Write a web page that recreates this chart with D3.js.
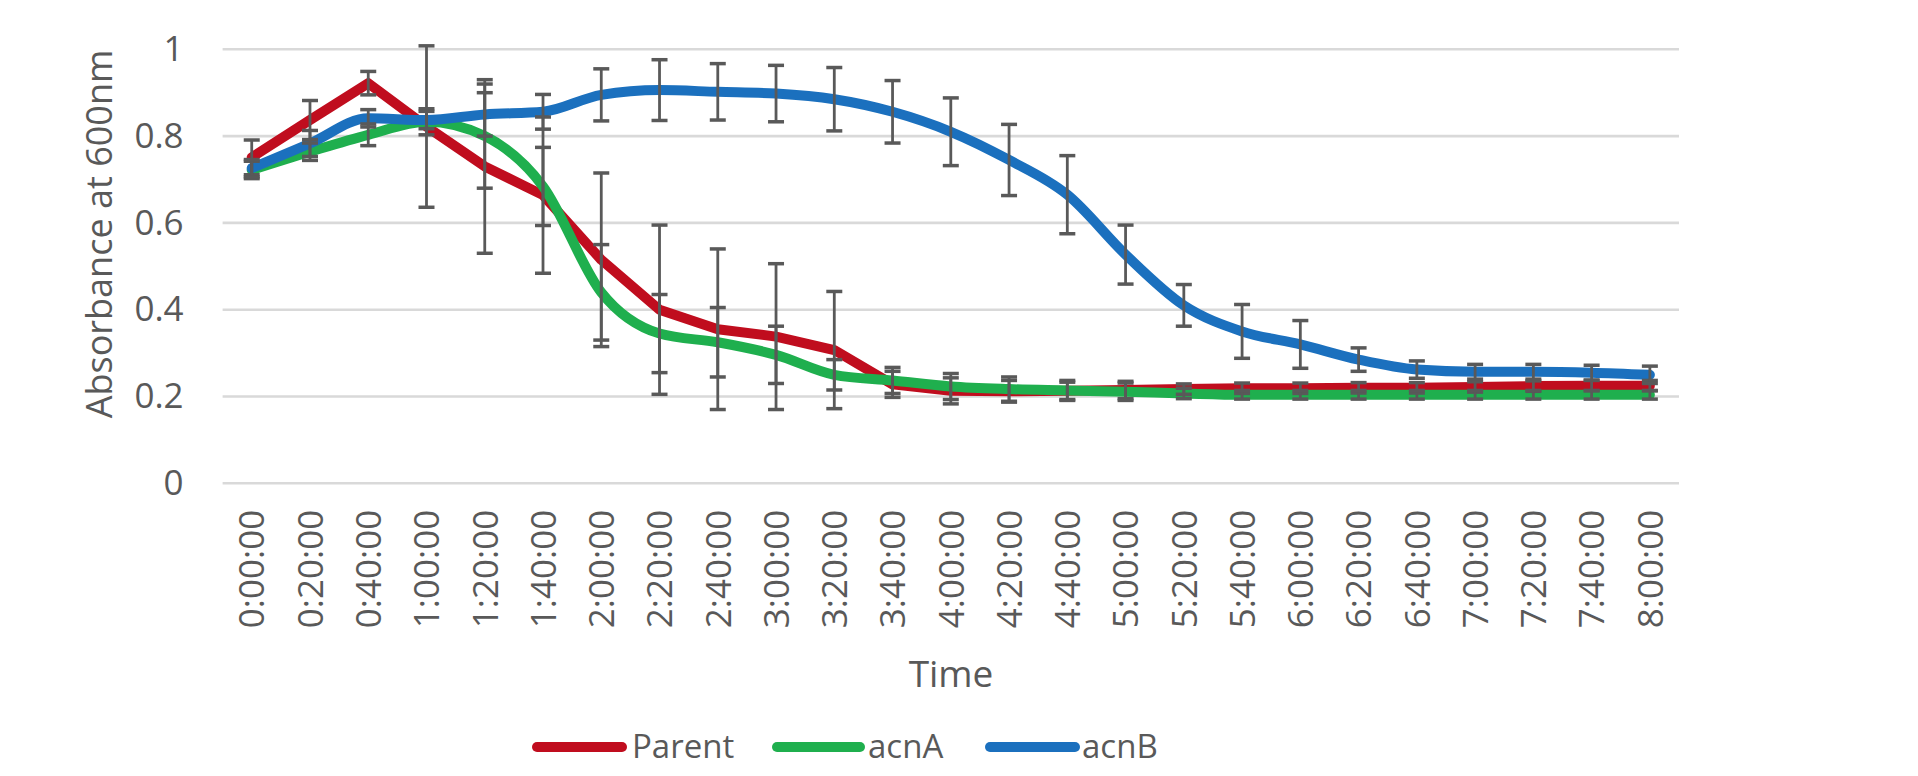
<!DOCTYPE html>
<html>
<head>
<meta charset="utf-8">
<script src="https://cdn.jsdelivr.net/npm/d3@7"></script>
<style>
  html, body { margin: 0; padding: 0; background: #ffffff; }
  svg { display: block; }
  text { font-family: "Open Sans", "Noto Sans", sans-serif; fill: #595959; }
</style>
</head>
<body>
<svg id="chart" width="1918" height="776"></svg>
<script>
// ---- data ----
const categories = ["0:00:00","0:20:00","0:40:00","1:00:00","1:20:00","1:40:00","2:00:00","2:20:00","2:40:00",
  "3:00:00","3:20:00","3:40:00","4:00:00","4:20:00","4:40:00","5:00:00","5:20:00","5:40:00","6:00:00",
  "6:20:00","6:40:00","7:00:00","7:20:00","7:40:00","8:00:00"];
const seriesNames = ["Parent", "acnA", "acnB"];
const parentValues = [0.751,0.837,0.922,0.822,0.730,0.664,0.515,0.400,0.355,0.338,0.307,0.228,0.213,0.212,0.213,
  0.215,0.217,0.219,0.219,0.220,0.220,0.222,0.224,0.225,0.225];
const parentErrors = [0.040,0.045,0.027,0.186,0.200,0.180,0.200,0.195,0.185,0.168,0.135,0.030,0.030,0.025,0.020,
  0.020,0.012,0.012,0.012,0.012,0.012,0.012,0.012,0.012,0.012];
const acnAValues = [0.722,0.764,0.803,0.833,0.800,0.684,0.440,0.345,0.325,0.296,0.250,0.237,0.223,0.217,0.214,
  0.211,0.207,0.204,0.204,0.204,0.204,0.204,0.204,0.204,0.204];
const acnAErrors = [0.020,0.020,0.025,0.030,0.120,0.090,0.110,0.090,0.080,0.066,0.035,0.030,0.030,0.028,0.023,
  0.020,0.012,0.010,0.010,0.010,0.010,0.010,0.010,0.010,0.010];
const acnBValues = [0.726,0.783,0.841,0.837,0.850,0.856,0.895,0.906,0.902,0.898,0.885,0.856,0.810,0.745,0.665,
  0.527,0.410,0.350,0.320,0.285,0.262,0.257,0.257,0.255,0.250];
const acnBErrors = [0.020,0.030,0.020,0.020,0.050,0.040,0.060,0.070,0.065,0.065,0.073,0.072,0.078,0.082,0.090,
  0.068,0.048,0.062,0.055,0.027,0.020,0.017,0.017,0.017,0.020];
const yTickValues = [0, 0.2, 0.4, 0.6, 0.8, 1];
const colors = ["#C00D1E", "#1FAF4E", "#1B70BE"];
const yTitle = "Absorbance at 600nm";
const xTitle = "Time";

const series = [
  { name: seriesNames[0], values: parentValues, errors: parentErrors, color: colors[0], curve: d3.curveLinear },
  { name: seriesNames[1], values: acnAValues, errors: acnAErrors, color: colors[1], curve: d3.curveMonotoneX },
  { name: seriesNames[2], values: acnBValues, errors: acnBErrors, color: colors[2], curve: d3.curveMonotoneX }
];

// ---- layout ----
const plot = { left: 222.6, right: 1679, top: 49.3, bottom: 483.3 };
const svg = d3.select("#chart");

const x = d3.scalePoint().domain(categories).range([plot.left, plot.right]).padding(0.5);
const y = d3.scaleLinear().domain([0, 1]).range([plot.bottom, plot.top]);

// gridlines
svg.append("g").selectAll("line").data(yTickValues).join("line")
  .attr("x1", plot.left).attr("x2", plot.right)
  .attr("y1", d => y(d)).attr("y2", d => y(d))
  .attr("stroke", "#D9D9D9").attr("stroke-width", 2.6);

// y axis labels
const yAxis = svg.append("g").attr("transform", `translate(${plot.left},0)`)
  .call(d3.axisLeft(y).tickValues(yTickValues).tickFormat(d3.format("~g")).tickSize(0).tickPadding(39));
yAxis.select(".domain").remove();
yAxis.selectAll("text").style("font-size", "35px").attr("fill", "#595959")
  .style("font-family", "'Open Sans', sans-serif");

// x axis labels
const xAxis = svg.append("g").attr("transform", `translate(0,${plot.bottom})`)
  .call(d3.axisBottom(x).tickSize(0));
xAxis.select(".domain").remove();
xAxis.selectAll("text")
  .attr("transform", "rotate(-90)")
  .attr("x", -26.5).attr("y", 0).attr("dy", "0.35em")
  .attr("text-anchor", "end")
  .style("font-size", "35px").attr("fill", "#595959")
  .style("font-family", "'Open Sans', sans-serif");

// lines
series.forEach(s => {
  const line = d3.line().x((d, i) => x(categories[i])).y(d => y(d)).curve(s.curve);
  svg.append("path").datum(s.values)
    .attr("d", line)
    .attr("fill", "none")
    .attr("stroke", s.color)
    .attr("stroke-width", 10)
    .attr("stroke-linejoin", "round")
    .attr("stroke-linecap", "round");
});

// error bars
const capHalf = 8;
series.forEach(s => {
  const g = svg.append("g").attr("stroke", "#595959").attr("stroke-width", 2.8);
  s.values.forEach((v, i) => {
    const cx = x(categories[i]);
    const yTop = y(v + s.errors[i]);
    const yBot = y(v - s.errors[i]);
    g.append("line").attr("x1", cx).attr("x2", cx).attr("y1", yTop).attr("y2", yBot);
    g.append("line").attr("x1", cx - capHalf).attr("x2", cx + capHalf).attr("y1", yTop).attr("y2", yTop).attr("stroke-width", 3.5);
    g.append("line").attr("x1", cx - capHalf).attr("x2", cx + capHalf).attr("y1", yBot).attr("y2", yBot).attr("stroke-width", 3.5);
  });
});

// axis titles
svg.append("text")
  .attr("transform", "translate(112,234) rotate(-90)")
  .attr("text-anchor", "middle")
  .style("font-size", "36px")
  .text(yTitle);

svg.append("text")
  .attr("x", 951).attr("y", 687)
  .attr("text-anchor", "middle")
  .style("font-size", "37px")
  .text(xTitle);

// legend
const legendItems = [
  { x1: 532, x2: 627, tx: 632 },
  { x1: 772, x2: 865, tx: 868 },
  { x1: 985, x2: 1080, tx: 1082 }
];
series.forEach((s, i) => {
  const it = legendItems[i];
  svg.append("line")
    .attr("x1", it.x1 + 5).attr("x2", it.x2 - 5)
    .attr("y1", 747).attr("y2", 747)
    .attr("stroke", s.color).attr("stroke-width", 10).attr("stroke-linecap", "round");
  svg.append("text")
    .attr("x", it.tx).attr("y", 758)
    .style("font-size", "33px")
    .text(s.name);
});
</script>
</body>
</html>
